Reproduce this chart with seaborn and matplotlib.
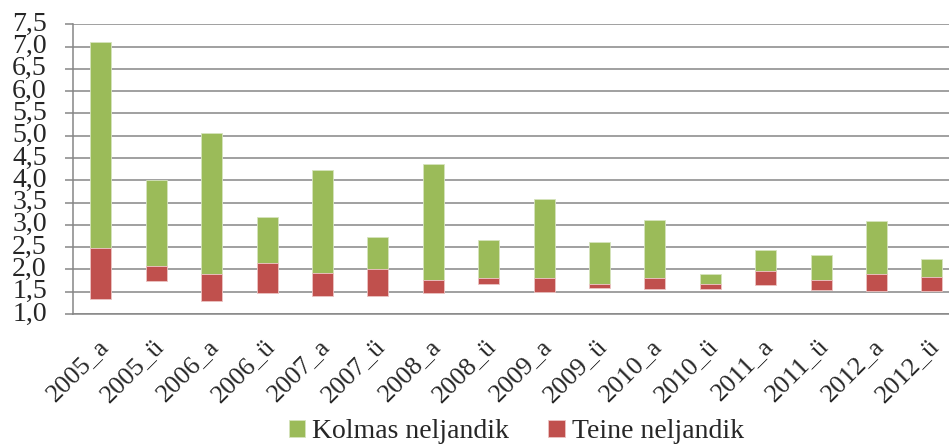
import numpy as np
import pandas as pd
import matplotlib
matplotlib.use("Agg")
import matplotlib.pyplot as plt
import matplotlib.transforms as mtransforms
from matplotlib.ticker import FuncFormatter, MultipleLocator
import seaborn as sns

# --- data (bottom = 1st quartile, median, 3rd quartile)
categories = ['2005_a', '2005_ü', '2006_a', '2006_ü', '2007_a', '2007_ü', '2008_a', '2008_ü',
              '2009_a', '2009_ü', '2010_a', '2010_ü', '2011_a', '2011_ü', '2012_a', '2012_ü']
q1 = [1.33, 1.75, 1.29, 1.46, 1.40, 1.40, 1.48, 1.67, 1.49, 1.58, 1.57, 1.55, 1.66, 1.54, 1.52, 1.51]
median = [2.47, 2.08, 1.90, 2.15, 1.93, 2.02, 1.77, 1.80, 1.81, 1.68, 1.80, 1.67, 1.96, 1.77, 1.90, 1.82]
q3 = [7.11, 4.00, 5.05, 3.17, 4.22, 2.73, 4.36, 2.66, 3.58, 2.62, 3.10, 1.90, 2.44, 2.32, 3.08, 2.24]
label_green = 'Kolmas neljandik'
label_red = 'Teine neljandik'

df = pd.DataFrame({'kat': categories, 'q1': q1, 'med': median, 'q3': q3})
df['teine'] = df['med'] - df['q1']
df['kolmas'] = df['q3'] - df['med']

sns.set_style('white')
plt.rcParams['font.family'] = ['Liberation Serif', 'DejaVu Serif']

GREEN = '#9BBB59'
RED = '#C0504D'
GRID = '#868686'

fig = plt.figure(figsize=(9.49, 4.45), dpi=100)
ax = fig.add_axes([0.0772, 0.2944, 0.934, 0.651])

sns.barplot(data=df, x='kat', y='kolmas', bottom=df['med'].values, color=GREEN, saturation=1,
            width=0.38, edgecolor='#d6e4bd', linewidth=0.6, label=label_green, ax=ax, zorder=3)
sns.barplot(data=df, x='kat', y='teine', bottom=df['q1'].values, color=RED, saturation=1,
            width=0.38, edgecolor='#ecc4c3', linewidth=0.6, label=label_red, ax=ax, zorder=3)

ax.set_xlim(-0.5, len(categories) - 0.5)
ax.set_ylim(1.0, 7.5)
ax.yaxis.set_major_locator(MultipleLocator(0.5))
ax.yaxis.set_major_formatter(FuncFormatter(lambda v, p: f'{v:.1f}'.replace('.', ',')))
ax.grid(axis='y', color=GRID, linewidth=1.1, zorder=0)
ax.set_axisbelow(True)
ax.set_xlabel('')
ax.set_ylabel('')

for s in ['top', 'right']:
    ax.spines[s].set_visible(False)
for s in ['left', 'bottom']:
    ax.spines[s].set_color(GRID)
    ax.spines[s].set_linewidth(1.1)

# Excel-style ticks between categories
ax.set_xticks(np.arange(-0.5, len(categories), 1), minor=True)
ax.tick_params(axis='x', which='major', length=0, pad=15, labelsize=19)
ax.tick_params(axis='x', which='minor', length=6.5, width=1.1, color=GRID, direction='out')
ax.tick_params(axis='y', length=6, width=1.1, color=GRID, pad=13, labelsize=20, left=True)
shift = mtransforms.ScaledTranslation(-4 / 100, 0, fig.dpi_scale_trans)
for t in ax.get_xticklabels():
    t.set_rotation(45)
    t.set_ha('right')
    t.set_rotation_mode('anchor')
    t.set_transform(t.get_transform() + shift)
for t in ax.get_yticklabels():
    t.set_va('center')

h, l = ax.get_legend_handles_labels()
ax.legend(h, l, loc='center', bbox_to_anchor=(0.5 * 0.934 + 0.0772, 0.03), bbox_transform=fig.transFigure,
          ncol=2, frameon=False, fontsize=20, handlelength=0.6, handleheight=0.6,
          handletextpad=0.25, columnspacing=1.4, borderpad=0)

fig.savefig('out.png', dpi=100)
